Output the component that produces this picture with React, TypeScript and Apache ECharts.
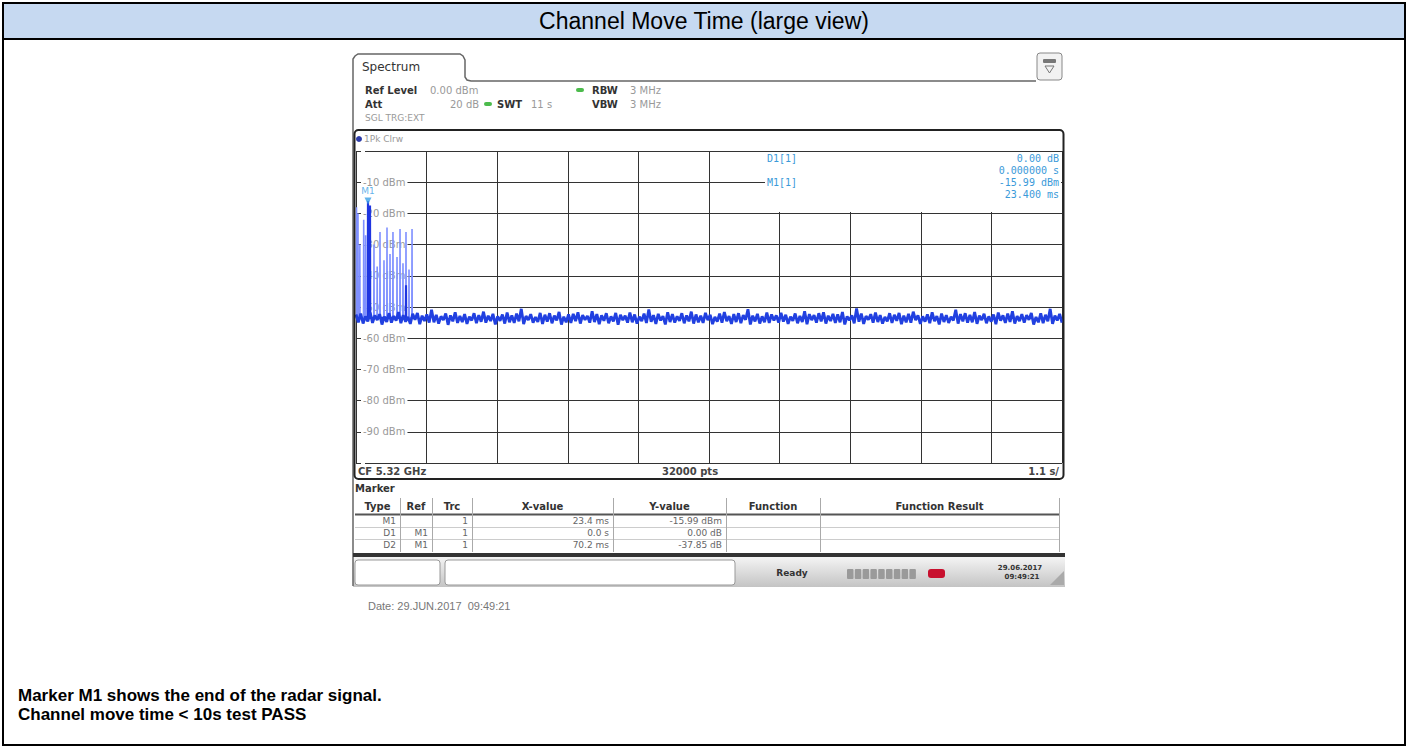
import React, { useEffect, useRef } from "react";
import * as echarts from "echarts";

// ---------- data ----------
const sweepStartMs = 0;
const sweepEndMs = 11000;
const sweepDivMs = 1100;
const refMinDbm = -100;
const refMaxDbm = 0;
const refDivDb = 10;

const noiseDbm = [
  -52.4,-54.9,-52.1,-55.3,-53.0,-54.6,-51.8,-55.1,-52.7,-54.2,-52.3,-55.6,-53.1,-54.8,-52.0,-55.0,-52.9,-54.4,-51.6,-55.2,
  -52.6,-54.7,-53.2,-55.4,-52.2,-54.1,-51.9,-55.5,-52.8,-54.5,-52.4,-55.0,-50.9,-54.9,-52.5,-55.3,-53.0,-54.2,-52.1,-55.7,
  -52.7,-54.6,-51.7,-55.1,-52.9,-54.8,-52.3,-55.4,-53.1,-54.3,-52.0,-55.2,-52.6,-54.7,-51.5,-55.0,-52.8,-54.5,-52.2,-55.6,
  -53.0,-54.4,-52.4,-55.3,-51.8,-54.9,-52.7,-55.1,-52.1,-54.6,-50.6,-55.5,-52.9,-54.2,-52.3,-55.0,-53.2,-54.8,-51.9,-55.4,
  -52.5,-54.7,-52.0,-55.2,-52.8,-54.3,-51.6,-55.6,-53.1,-54.9,-52.4,-55.1,-52.2,-54.5,-51.7,-55.3,-52.6,-54.1,-52.9,-55.0,
  -51.4,-54.8,-52.3,-55.5,-52.7,-54.4,-52.0,-55.2,-53.0,-54.6,-51.9,-55.7,-52.5,-54.2,-52.8,-55.0,-51.8,-54.9,-52.4,-55.3,
  -53.1,-54.5,-52.1,-55.1,-50.8,-54.7,-52.6,-55.4,-52.2,-54.3,-52.9,-55.6,-51.7,-54.8,-52.3,-55.0,-53.0,-54.4,-52.0,-55.2,
  -52.7,-54.6,-51.5,-55.3,-52.4,-54.9,-52.8,-55.1,-51.9,-54.2,-52.5,-55.5,-53.2,-54.7,-52.1,-55.0,-51.6,-54.5,-52.9,-55.4,
  -52.3,-54.8,-52.0,-55.2,-52.6,-54.1,-50.7,-55.6,-52.8,-54.6,-52.2,-55.3,-53.0,-54.9,-51.8,-55.1,-52.4,-54.3,-52.7,-55.0,
  -51.9,-54.7,-52.5,-55.4,-53.1,-54.4,-52.1,-55.2,-52.9,-54.8,-51.4,-55.5,-52.3,-54.2,-52.6,-55.0,-52.0,-54.6,-51.7,-55.3,
  -52.8,-54.5,-52.2,-55.1,-52.4,-54.9,-51.6,-55.6,-53.0,-54.3,-52.7,-55.2,-50.5,-54.7,-52.1,-55.4,-52.9,-54.1,-52.3,-55.0,
  -51.8,-54.8,-52.6,-55.3,-53.2,-54.6,-52.0,-55.1,-52.5,-54.4,-51.9,-55.5,-52.8,-54.9,-52.2,-55.0,-51.5,-54.2,-52.7,-55.4,
  -53.0,-54.7,-52.4,-55.2,-51.7,-54.5,-52.9,-55.6,-52.1,-54.8,-52.6,-55.1,-53.1,-54.3,-50.9,-55.3,-52.3,-54.6,-52.0,-55.0,
  -52.5,-54.9,-51.6,-55.4,-52.8,-54.2,-52.2,-55.2,-53.0,-54.7,-52.4,-55.5,-51.8,-54.4,-52.7,-55.1,-52.1,-54.8,-51.4,-55.3,
  -52.9,-54.5,-52.3,-55.0,-52.6,-54.1,-51.9,-55.6,-53.2,-54.9,-52.0,-55.2,-52.5,-54.6,-50.6,-55.4,-52.8,-54.3,-52.2,-55.0,
];

const pulseFloorDbm = -53.5;
const darkPulseMs = [187, 218, 779];
const darkPulseDbm = [-16, -17.5, -43];
const lightPulseMs = [8, 31, 60, 120, 150, 280, 330, 374, 436, 483, 530, 576, 639, 686, 732, 779, 826, 873];
const lightPulseDbm = [-18, -20, -30, -22, -27, -30, -37, -26, -35, -24.5, -33, -26, -34, -25, -36, -26, -38, -25];

const m1Ms = 187;
const m1Dbm = -16;

const tableHeaders = ["Type", "Ref", "Trc", "X-value", "Y-value", "Function", "Function Result"];
const markerTypes = ["M1", "D1", "D2"];
const markerRefs = ["", "M1", "M1"];
const markerTrcs = ["1", "1", "1"];
const markerXValues = ["23.4 ms", "0.0 s", "70.2 ms"];
const markerYValues = ["-15.99 dBm", "0.00 dB", "-37.85 dB"];

const infoLeft = ["D1[1]", "", "M1[1]", ""];
const infoRight = ["0.00 dB", "0.000000 s", "-15.99 dBm", "23.400 ms"];

// ---------- helpers ----------
const DV = '"DejaVu Sans"';
const DVM = '"DejaVu Sans Mono"';
const AR = '"Liberation Sans", Arial';

function txt(text: string, x: number, y: number, font: string, fill: string, align = "left", z = 20) {
  return {
    type: "text",
    x,
    y,
    z,
    silent: true,
    style: {
      text,
      font,
      fill,
      align,
      textAlign: align,
      verticalAlign: "middle",
      textVerticalAlign: "middle",
    },
  };
}
function ln(x1: number, y1: number, x2: number, y2: number, stroke: string, lineWidth = 1, z = 20) {
  return { type: "line", z, silent: true, shape: { x1, y1, x2, y2 }, style: { stroke, lineWidth } };
}
function rc(x: number, y: number, width: number, height: number, style: any, r: any = 0, z = 20) {
  return { type: "rect", z, silent: true, shape: { x, y, width, height, r }, style };
}

function pulseData(times: number[], peaks: number[]) {
  const out: number[][] = [];
  times.forEach((t, i) => {
    out.push([t - 3, pulseFloorDbm]);
    out.push([t, peaks[i]]);
    out.push([t + 3, pulseFloorDbm]);
  });
  return out;
}

export default function App() {
  const ref = useRef<HTMLDivElement>(null);

  useEffect(() => {
    document.body.style.margin = "0";
    if (!ref.current) return;
    const chart = echarts.init(ref.current, undefined, { renderer: "svg" });

    const noiseStep = (sweepEndMs - sweepStartMs) / (noiseDbm.length - 1);
    const noiseData = noiseDbm.map((v, i) => [sweepStartMs + i * noiseStep, v]);

    const g: any[] = [];
    // document table
    g.push(rc(4, 4, 1400, 35, { fill: "#c6d9f1" }, 0, 1));
    g.push(rc(3, 3, 1402, 742, { fill: "none", stroke: "#000", lineWidth: 2 }, 0, 2));
    g.push(ln(3, 39, 1405, 39, "#000", 2, 2));
    g.push(txt("Channel Move Time (large view)", 704, 21, `23px ${AR}`, "#000", "center"));
    g.push(txt("Marker M1 shows the end of the radar signal.", 18, 695, `bold 17px ${AR}`, "#000"));
    g.push(txt("Channel move time < 10s test PASS", 18, 714, `bold 17px ${AR}`, "#000"));

    // instrument screenshot chrome
    g.push({
      type: "polyline",
      z: 20,
      silent: true,
      shape: { points: [[353, 586], [353, 59], [355, 56], [358, 54], [460, 54], [463, 56], [465, 60], [465, 77], [467, 80], [471, 81], [1036, 81]] },
      style: { stroke: "#666", lineWidth: 1.5, fill: "none" },
    });
    g.push(txt("Spectrum", 362, 67, `12px ${DV}`, "#333"));
    g.push(rc(1037, 53, 25, 27, { fill: "#f2f2f2", stroke: "#888", lineWidth: 1 }, 3));
    g.push(rc(1043, 59, 13, 4, { fill: "#777" }, 1));
    g.push({ type: "polygon", z: 21, silent: true, shape: { points: [[1045, 66], [1054, 66], [1049.5, 73]] }, style: { fill: "none", stroke: "#777", lineWidth: 1 } });

    g.push(txt("Ref Level", 365, 90, `bold 10px ${DV}`, "#333"));
    g.push(txt("0.00 dBm", 430, 90, `10px ${DV}`, "#999"));
    g.push(rc(576, 88, 8, 4, { fill: "#4cbb4c" }, 2));
    g.push(txt("RBW", 592, 90, `bold 10px ${DV}`, "#333"));
    g.push(txt("3 MHz", 630, 90, `10px ${DV}`, "#999"));
    g.push(txt("Att", 365, 104, `bold 10px ${DV}`, "#333"));
    g.push(txt("20 dB", 450, 104, `10px ${DV}`, "#999"));
    g.push(rc(484, 102, 8, 4, { fill: "#4cbb4c" }, 2));
    g.push(txt("SWT", 497, 104, `bold 10px ${DV}`, "#333"));
    g.push(txt("11 s", 531, 104, `10px ${DV}`, "#999"));
    g.push(txt("VBW", 592, 104, `bold 10px ${DV}`, "#333"));
    g.push(txt("3 MHz", 630, 104, `10px ${DV}`, "#999"));
    g.push(txt("SGL TRG:EXT", 365, 118, `9px ${DV}`, "#999"));

    // plot frame
    g.push(rc(354.5, 130, 709, 349, { fill: "none", stroke: "#222", lineWidth: 2 }, 4, 30));
    g.push({ type: "circle", z: 21, silent: true, shape: { cx: 359, cy: 139, r: 3 }, style: { fill: "#2b3aa8" } });
    g.push(txt("1Pk Clrw", 364, 139, `9px ${DV}`, "#999"));
    // marker info box
    g.push(rc(711, 152, 350, 60, { fill: "#fff" }, 0, 15));
    g.push(ln(711, 182.5, 765, 182.5, "#333", 1, 16));
    infoLeft.forEach((s, i) => {
      if (s) g.push(txt(s, 767, 158 + i * 12, `10px ${DVM}`, "#3a9ad9"));
    });
    infoRight.forEach((s, i) => g.push(txt(s, 1059, 158 + i * 12, `10px ${DVM}`, "#3a9ad9", "right")));
    // CF bar
    g.push(txt("CF 5.32 GHz", 358, 471, `bold 10px ${DV}`, "#444"));
    g.push(txt("32000 pts", 690, 471, `bold 10px ${DV}`, "#444", "center"));
    g.push(txt("1.1 s/", 1059, 471, `bold 10px ${DV}`, "#444", "right"));

    // marker table
    g.push(txt("Marker", 355, 488, `bold 10px ${DV}`, "#333"));
    const colEdges = [355, 400, 432, 472, 613, 726, 820, 1059];
    g.push(ln(355, 514.5, 1059, 514.5, "#555", 2));
    g.push(ln(355, 527.5, 1059, 527.5, "#ccc", 1));
    g.push(ln(355, 539.5, 1059, 539.5, "#ccc", 1));
    colEdges.slice(1, colEdges.length - 1).forEach((x) => g.push(ln(x + 0.5, 498, x + 0.5, 552, "#aaa", 1)));
    g.push(ln(1059.5, 498, 1059.5, 552, "#aaa", 1));
    tableHeaders.forEach((h, i) => {
      const cx = (colEdges[i] + colEdges[i + 1]) / 2;
      g.push(txt(h, cx, 506, `bold 10px ${DV}`, "#333", "center"));
    });
    const rowY = [521, 533, 545];
    const rightOf = (i: number) => colEdges[i + 1] - 4;
    markerTypes.forEach((s, r) => {
      g.push(txt(s, rightOf(0), rowY[r], `9px ${DV}`, "#666", "right"));
      if (markerRefs[r]) g.push(txt(markerRefs[r], rightOf(1), rowY[r], `9px ${DV}`, "#666", "right"));
      g.push(txt(markerTrcs[r], rightOf(2), rowY[r], `9px ${DV}`, "#666", "right"));
      g.push(txt(markerXValues[r], rightOf(3), rowY[r], `9px ${DV}`, "#666", "right"));
      g.push(txt(markerYValues[r], rightOf(4), rowY[r], `9px ${DV}`, "#666", "right"));
    });

    // status bar
    g.push(rc(353, 553, 712, 4, { fill: "#333" }, 0, 20));
    g.push(
      rc(353, 557, 712, 30, {
        fill: new echarts.graphic.LinearGradient(0, 0, 0, 1, [
          { offset: 0, color: "#f4f4f4" },
          { offset: 1, color: "#c4c4c4" },
        ]),
      }, 0, 19)
    );
    g.push(rc(355, 560, 85, 25, { fill: "#fff", stroke: "#999", lineWidth: 1 }, 3, 21));
    g.push(rc(445, 560, 290, 25, { fill: "#fff", stroke: "#999", lineWidth: 1 }, 3, 21));
    g.push(txt("Ready", 792, 573, `bold 9px ${DV}`, "#333", "center"));
    for (let i = 0; i < 9; i++) g.push(rc(847 + i * 7.8, 569, 6.5, 10, { fill: "#9a9a9a" }, 1, 21));
    g.push(rc(928, 569, 17, 9, { fill: "#c8102e" }, 3, 21));
    g.push(txt("29.06.2017", 1020, 568, `bold 7px ${DV}`, "#333", "center"));
    g.push(txt("09:49:21", 1022, 577, `bold 7px ${DV}`, "#333", "center"));
    g.push({ type: "polygon", z: 21, silent: true, shape: { points: [[1050, 585], [1064, 585], [1064, 571]] }, style: { fill: "#aaa" } });

    g.push(txt("Date: 29.JUN.2017  09:49:21", 368, 606, `11px ${AR}`, "#777"));

    const option: any = {
      animation: false,
      backgroundColor: "#fff",
      grid: { left: 356, top: 151, width: 706, height: 312, containLabel: false },
      xAxis: {
        type: "value",
        min: sweepStartMs,
        max: sweepEndMs,
        interval: sweepDivMs,
        axisLine: { show: false },
        axisTick: { show: false },
        axisLabel: { show: false },
        splitLine: { show: true, lineStyle: { color: "#333", width: 1 } },
      },
      yAxis: {
        type: "value",
        min: refMinDbm,
        max: refMaxDbm,
        interval: refDivDb,
        axisLine: { show: false },
        axisTick: { show: false },
        splitLine: { show: true, lineStyle: { color: "#333", width: 1 } },
        axisLabel: {
          inside: true,
          margin: 5,
          color: "#999",
          fontSize: 10,
          fontFamily: "DejaVu Sans",
          backgroundColor: "#fff",
          padding: [1, 2, 1, 2],
          formatter: (v: number) => (v === refMaxDbm || v === refMinDbm ? "" : `${v} dBm`),
        },
      },
      series: [
        {
          type: "line",
          data: pulseData(lightPulseMs, lightPulseDbm),
          showSymbol: false,
          symbol: "none",
          lineStyle: { color: "#7f90ff", width: 1.6 },
          z: 2,
        },
        {
          type: "line",
          data: pulseData(darkPulseMs, darkPulseDbm),
          showSymbol: false,
          symbol: "none",
          lineStyle: { color: "#1f35e0", width: 2.2 },
          z: 3,
        },
        {
          type: "line",
          data: noiseData,
          showSymbol: false,
          symbol: "none",
          lineStyle: { color: "#2140e0", width: 2.8 },
          z: 4,
        },
        {
          type: "scatter",
          data: [[m1Ms, m1Dbm]],
          symbol: "triangle",
          symbolRotate: 180,
          symbolSize: 7,
          itemStyle: { color: "#3aa0e6" },
          label: { show: true, position: "top", formatter: "M1", color: "#3aa0e6", fontSize: 9, fontFamily: "DejaVu Sans", distance: 2 },
          z: 6,
        },
        {
          type: "scatter",
          data: [[m1Ms, m1Dbm]],
          symbol: "none",
          label: { show: true, position: "top", formatter: "D1", color: "#7fd0f0", fontSize: 9, fontFamily: "DejaVu Sans", distance: 12 },
          z: 6,
        },
      ],
      graphic: g,
    };
    chart.setOption(option);
    return () => chart.dispose();
  }, []);

  return <div ref={ref} style={{ width: 1409, height: 749 }} />;
}
